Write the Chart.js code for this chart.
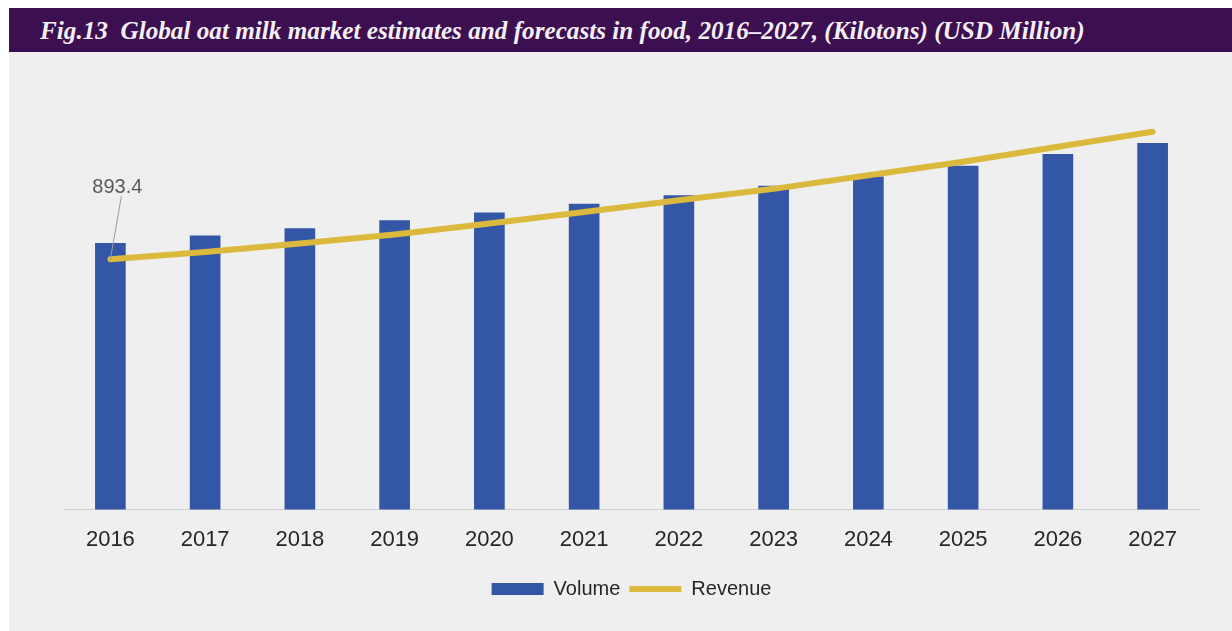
<!DOCTYPE html>
<html>
<head>
<meta charset="utf-8">
<script src="https://cdn.jsdelivr.net/npm/chart.js@4.4.1/dist/chart.umd.min.js"></script>
<style>
  html, body { margin: 0; padding: 0; background: #ffffff; width: 1232px; height: 631px; overflow: hidden; }
  #panel { position: absolute; left: 9px; top: 8px; width: 1223px; height: 623px; background: #efefef; }
  #header {
    position: absolute; left: 0; top: 0; width: 1223px; height: 44px;
    background: #3c0f50; color: #f4f0f6;
    font: italic bold 25.2px "Liberation Serif", "DejaVu Serif", serif;
    line-height: 46px; white-space: pre; box-sizing: border-box; padding-left: 31px;
  }
  #wrap { position: absolute; left: 0; top: 44px; width: 1223px; height: 579px; }
</style>
</head>
<body>
<div id="panel">
  <div id="header">Fig.13  Global oat milk market estimates and forecasts in food, 2016–2027, (Kilotons) (USD Million)</div>
  <div id="wrap"><canvas id="chart" width="1223" height="579"></canvas></div>
</div>
<script>
const years = ['2016', '2017', '2018', '2019', '2020', '2021', '2022', '2023', '2024', '2025', '2026', '2027'];
// Volume (Kilotons)
const volume = [399, 410, 421, 433, 444.5, 457.5, 470.5, 484.5, 498.5, 514.5, 532, 548.5];
// Revenue (USD Million) - first value labelled, rest estimated
const revenue = [893.4, 919.5, 949.6, 981.7, 1021.0, 1062.4, 1104.2, 1144.7, 1193.5, 1241.2, 1294.7, 1348.4];
const labelledValue = '893.4';

const firstPointLabel = {
  id: 'firstPointLabel',
  afterDatasetsDraw(chart) {
    const pt = chart.getDatasetMeta(1).data[0];
    if (!pt) return;
    const ctx = chart.ctx;
    ctx.save();
    ctx.strokeStyle = '#9a9a9a';
    ctx.lineWidth = 1;
    ctx.beginPath();
    ctx.moveTo(pt.x, pt.y);
    ctx.lineTo(pt.x + 11, pt.y - 63);
    ctx.stroke();
    ctx.fillStyle = '#595959';
    ctx.font = '20px "Liberation Sans", Arial, sans-serif';
    ctx.textAlign = 'center';
    ctx.textBaseline = 'middle';
    ctx.fillText(labelledValue, pt.x + 7, pt.y - 72);
    ctx.restore();
  }
};

new Chart(document.getElementById('chart'), {
  data: {
    labels: years,
    datasets: [
      {
        type: 'bar',
        label: 'Volume',
        data: volume,
        backgroundColor: '#3456a6',
        barThickness: 30,
        yAxisID: 'y',
        pointStyle: 'rect',
        order: 2
      },
      {
        type: 'line',
        label: 'Revenue',
        data: revenue,
        borderColor: '#dbb93c',
        backgroundColor: '#dbb93c',
        borderWidth: 6,
        borderCapStyle: 'round',
        pointRadius: 0,
        pointStyle: 'line',
        tension: 0,
        yAxisID: 'y1',
        order: 1
      }
    ]
  },
  plugins: [firstPointLabel],
  options: {
    responsive: false,
    animation: false,
    layout: { padding: { left: 54, right: 32, top: 20, bottom: 22 } },
    plugins: {
      legend: {
        position: 'bottom',
        labels: {
          usePointStyle: true,
          pointStyleWidth: 52,
          boxHeight: 12,
          padding: 9,
          color: '#262626',
          font: { family: '"Liberation Sans", Arial, sans-serif', size: 20 },
          sort: (a, b) => a.datasetIndex - b.datasetIndex
        }
      },
      tooltip: { enabled: false }
    },
    scales: {
      x: {
        grid: { display: false, drawTicks: false },
        border: { display: true, color: '#d0d0d0' },
        ticks: {
          color: '#262626',
          padding: 17,
          font: { family: '"Liberation Sans", Arial, sans-serif', size: 22 }
        }
      },
      y: { display: false, min: 0, max: 655.5 },
      y1: { display: false, min: 0, max: 1561.7 }
    }
  }
});
</script>
</body>
</html>
